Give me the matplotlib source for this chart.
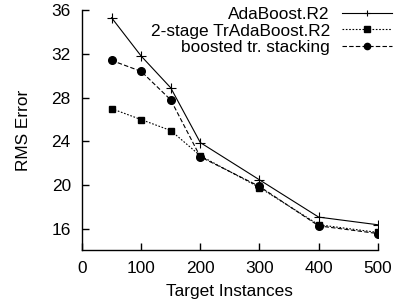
import matplotlib
matplotlib.use("Agg")
import matplotlib.pyplot as plt

plt.rcParams['font.family'] = ['Liberation Sans', 'DejaVu Sans']
plt.rcParams['font.size'] = 12.4

instances = [50, 100, 150, 200, 300, 400, 500]
adaboost = [35.3, 31.8, 28.9, 23.9, 20.5, 17.1, 16.4]
trada = [27.0, 26.0, 25.0, 22.7, 19.8, 16.4, 15.7]
stacking = [31.4, 30.4, 27.8, 22.6, 19.9, 16.3, 15.6]

fig = plt.figure(figsize=(3.94, 3.03), dpi=100)
ax = fig.add_axes([0.208, 0.175, 0.751, 0.792])

ax.plot(instances, adaboost, color='black', lw=0.8, ls='-', marker='+',
        ms=7, mew=0.8, label='AdaBoost.R2')
ax.plot(instances, trada, color='black', lw=0.8, ls=(0, (1.5, 1.5)), marker='s',
        ms=5, label='2-stage TrAdaBoost.R2')
ax.plot(instances, stacking, color='black', lw=0.8, ls=(0, (4, 2)), marker='o',
        ms=5.5, label='boosted tr. stacking')

ax.set_xlim(0, 500)
ax.set_ylim(14.1, 36)
ax.set_xticks([0, 100, 200, 300, 400, 500])
ax.set_yticks([16, 20, 24, 28, 32, 36])
ax.tick_params(direction='in', length=5, width=1, pad=8)
for s in ['top', 'right']:
    ax.spines[s].set_visible(False)
for s in ['left', 'bottom']:
    ax.spines[s].set_linewidth(1)

ax.set_xlabel('Target Instances', labelpad=6)
ax.set_ylabel('RMS Error', labelpad=15)

leg = ax.legend(loc='upper right', frameon=False, markerfirst=False,
                handlelength=2.9, handletextpad=0.7, labelspacing=0.06,
                borderpad=0.0, borderaxespad=0.0, bbox_to_anchor=(1.047, 1.011))
for t in leg.get_texts():
    t.set_ha('right')
for h in leg.legend_handles:
    h.set_markersize(4.5)

fig.savefig('out.png', dpi=100)
